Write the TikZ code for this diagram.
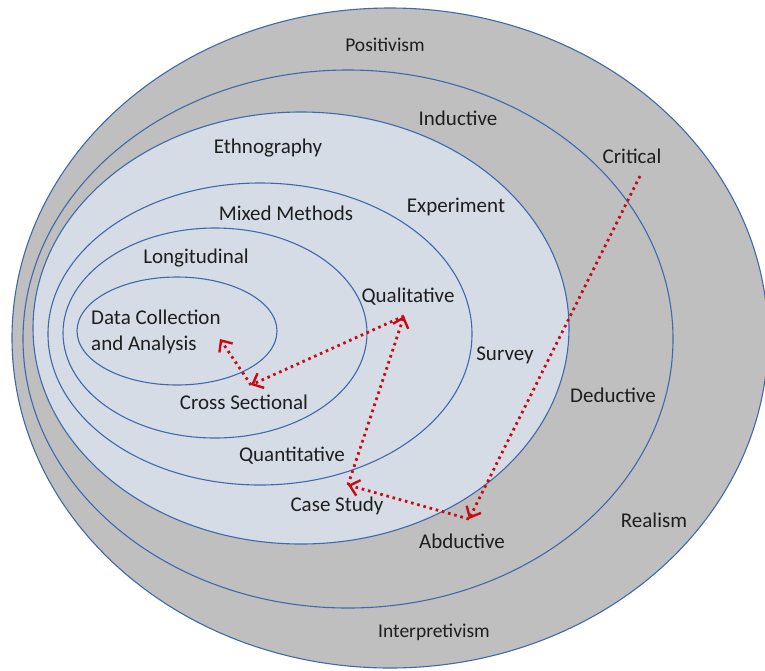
\documentclass[tikz,border=0pt]{standalone}
\usepackage{fontspec}
\setmainfont{Carlito}
\usetikzlibrary{arrows.meta}
\definecolor{ringline}{RGB}{65,105,170}
\definecolor{outerfill}{RGB}{191,191,191}
\definecolor{innerfill}{RGB}{214,220,229}
\definecolor{linkred}{RGB}{200,10,20}
\definecolor{labeltext}{RGB}{30,30,30}
\tikzset{
  ring/.style={draw=ringline, line width=1.1pt},
  outerring/.style={ring, fill=outerfill},
  innerring/.style={ring, fill=innerfill},
  farlabel/.style={text=labeltext, font=\fontsize{19.5}{23}\selectfont, inner sep=0pt},
  outerlabel/.style={text=labeltext, font=\fontsize{21}{25}\selectfont, inner sep=0pt},
  innerlabel/.style={text=labeltext, font=\fontsize{21}{25.5}\selectfont, inner sep=0pt},
  link/.style={draw=linkred, line width=2.8pt, dash pattern=on 2.6pt off 3.8pt,
    -{Straight Barb[length=9pt,width=16pt,line width=2.4pt]}},
}
\begin{document}
\begin{tikzpicture}[x=1pt,y=-1pt]
\useasboundingbox (0,0) rectangle (765,670);
% rings
\draw[outerring] (390,338) ellipse [x radius=378pt, y radius=330pt];
\draw[outerring] (348,339) ellipse [x radius=325pt, y radius=269pt];
\draw[innerring] (301,328) ellipse [x radius=268pt, y radius=216pt];
\draw[innerring] (260,334) ellipse [x radius=212pt, y radius=151pt];
\draw[innerring] (215,333) ellipse [x radius=152pt, y radius=105pt];
\draw[innerring] (177,331) ellipse [x radius=100pt, y radius=54pt];
% labels
\node[farlabel] (positivism) at (385,45) {Positivism};
\node[outerlabel] (inductive) at (458,118) {Inductive};
\node[outerlabel] (critical) at (632,156) {Critical};
\node[outerlabel] (deductive) at (613,395) {Deductive};
\node[outerlabel] (realism) at (654,520) {Realism};
\node[outerlabel] (abductive) at (462,541) {Abductive};
\node[farlabel] (interpretivism) at (434,632) {Interpretivism};
\node[outerlabel] (ethnography) at (268,148) {Ethnography};
\node[outerlabel] (experiment) at (456,207) {Experiment};
\node[outerlabel] (survey) at (505,355) {Survey};
\node[outerlabel] (casestudy) at (337,506) {Case Study};
\node[innerlabel] (mixed) at (286,213) {Mixed Methods};
\node[innerlabel] (qualitative) at (408,297) {Qualitative};
\node[innerlabel] (quantitative) at (292,456) {Quantitative};
\node[innerlabel] (longitudinal) at (196,258) {Longitudinal};
\node[innerlabel] (crosssec) at (244,402) {Cross Sectional};
\node[innerlabel, anchor=west, align=left] (datacoll) at (91,332) {Data Collection\\and Analysis};
% arrow end points
\coordinate (pCrit) at (640,176);
\coordinate (pAbd) at (469,519);
\coordinate (pCase) at (348,485);
\coordinate (pQual) at (404,316);
\coordinate (pCS) at (251,385);
\coordinate (pDC) at (220,339);
% links
\draw[link] (pCrit) -- (pAbd);
\draw[link] (pAbd) -- (pCase);
\draw[link] (pCase) -- (pQual);
\draw[link] (pQual) -- (pCS);
\draw[link] (pCS) -- (pDC);
\end{tikzpicture}
\end{document}
